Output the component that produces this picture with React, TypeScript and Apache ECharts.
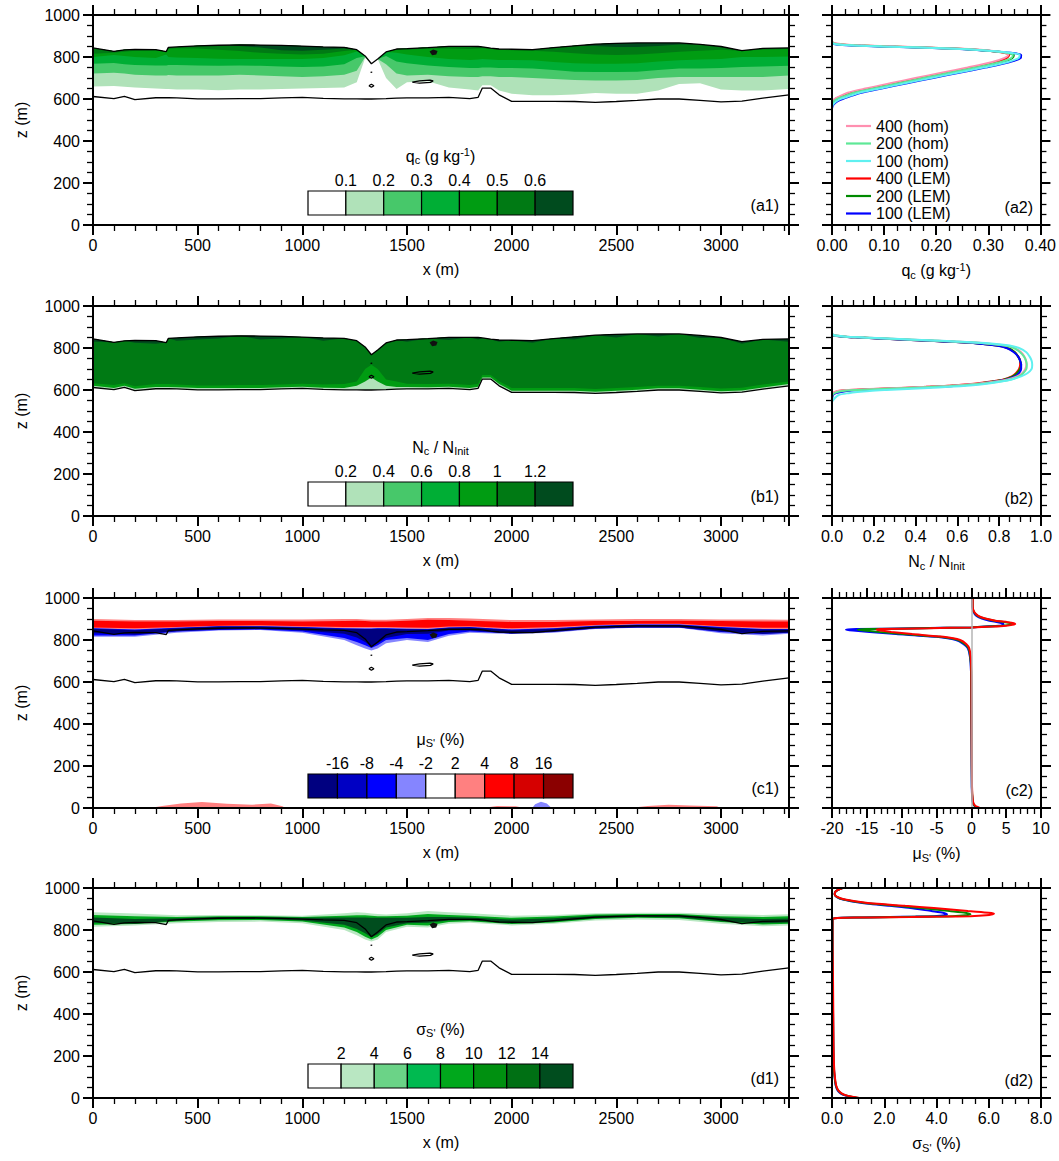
import React, { useEffect, useRef } from "react";
import * as echarts from "echarts";

const FONT = "'Liberation Sans', Arial, Helvetica, sans-serif";
const W = 1059;
const H = 1161;

// ---------------- layout ----------------
const ROW_TOPS = [15, 306, 598, 888];
const ROW_H = 210;
const LEFT_X = 93;
const LEFT_W = 696;
const RIGHT_X = 832;
const RIGHT_W = 209;

// ---------------- cross-section (left panels) data ----------------
const XS = [0, 100, 150, 200, 300, 350, 360, 400, 500, 600, 700, 800, 900, 1000, 1100, 1200, 1260, 1300, 1330, 1360, 1400, 1450, 1500, 1600, 1700, 1800, 1840, 1860, 1900, 1940, 2000, 2100, 2200, 2300, 2400, 2500, 2600, 2700, 2800, 2900, 3000, 3100, 3200, 3325];
// cloud-top and cloud-base contour heights (m)
const TOP = [843, 827, 834, 836, 835, 826, 846, 848, 853, 856, 858, 857, 855, 852, 848, 846, 835, 805, 768, 790, 824, 838, 840, 845, 851, 851, 850, 848, 842, 838, 837, 835, 845, 853, 861, 865, 867, 867, 867, 860, 850, 830, 841, 843];
const BASE = [612, 602, 612, 597, 606, 606, 606, 605, 601, 601, 602, 602, 605, 608, 603, 601, 601, 600, 600, 601, 602, 604, 605, 605, 608, 602, 608, 652, 652, 620, 589, 589, 589, 588, 584, 588, 593, 600, 600, 593, 586, 590, 604, 620];

// (a1) q_c: lower height of each level (filled up to cloud top)
const A1_L1 = [660, 662, 658, 655, 650, 648, 648, 645, 645, 642, 645, 645, 648, 650, 652, 655, 680, 795, 768, 790, 700, 648, 680, 685, 655, 645, 640, 665, 665, 640, 625, 618, 618, 622, 628, 625, 625, 640, 672, 675, 645, 640, 640, 648];
const A1_L2 = [722, 725, 722, 715, 712, 712, 714, 712, 712, 712, 715, 712, 708, 705, 708, 715, 735, 800, 768, 790, 765, 722, 712, 715, 708, 705, 705, 708, 708, 705, 705, 700, 695, 690, 688, 688, 690, 700, 705, 705, 705, 705, 705, 712];
const A1_L3 = [768, 772, 766, 762, 760, 760, 762, 762, 760, 758, 760, 758, 755, 752, 755, 765, 795, 803, 768, 790, 805, 778, 770, 760, 752, 748, 748, 750, 750, 748, 748, 745, 738, 730, 728, 728, 730, 738, 745, 745, 748, 752, 755, 758];
const A1_L4 = [800, 810, 805, 800, 795, 812, 800, 798, 795, 792, 790, 790, 790, 790, 795, 808, 826, 805, 768, 790, 824, 820, 812, 800, 790, 786, 788, 790, 788, 786, 786, 784, 776, 770, 768, 768, 770, 778, 785, 788, 790, 800, 800, 802];
const A1_L5 = [815, 820, 825, 830, 830, 826, 838, 842, 840, 835, 828, 820, 815, 812, 815, 828, 835, 805, 768, 790, 824, 838, 835, 840, 840, 838, 840, 842, 838, 835, 832, 830, 825, 818, 812, 810, 812, 818, 825, 830, 835, 830, 835, 838];
const A1_L6 = [843, 827, 834, 836, 835, 826, 846, 848, 853, 856, 852, 845, 832, 830, 835, 840, 835, 805, 768, 790, 824, 838, 840, 845, 851, 851, 850, 848, 842, 838, 837, 835, 845, 853, 852, 848, 848, 852, 860, 860, 850, 830, 841, 843];

// (b1) N_c/N_init
const B1_L4 = [620, 610, 620, 606, 614, 614, 614, 613, 609, 609, 610, 610, 613, 616, 611, 610, 620, 640, 660, 640, 620, 614, 614, 613, 616, 610, 616, 660, 660, 628, 597, 597, 597, 596, 592, 596, 601, 608, 608, 601, 594, 598, 612, 628];
const B1_L5 = [632, 624, 632, 618, 628, 628, 628, 626, 622, 622, 624, 624, 626, 630, 626, 628, 640, 700, 720, 700, 650, 640, 630, 628, 630, 624, 630, 672, 672, 642, 610, 610, 610, 609, 605, 609, 614, 620, 620, 614, 607, 611, 626, 640];
const B1_L6 = [830, 827, 834, 825, 820, 826, 846, 835, 840, 845, 858, 840, 845, 852, 835, 846, 835, 805, 768, 790, 824, 838, 830, 845, 838, 851, 840, 848, 842, 830, 837, 825, 845, 840, 861, 850, 867, 855, 867, 848, 850, 820, 841, 830];

// coarser grid for (c1), (d1) layers around cloud top
const XC = [0, 200, 400, 600, 800, 1000, 1200, 1260, 1300, 1330, 1360, 1400, 1500, 1600, 1700, 1800, 2000, 2200, 2400, 2600, 2800, 3000, 3200, 3325];
// (c1) mean supersaturation layers
const C1_RED_LIGHT_LO = [852, 848, 856, 862, 864, 860, 856, 855, 855, 855, 856, 856, 854, 852, 858, 860, 848, 855, 866, 872, 872, 860, 852, 852];
const C1_RED_LIGHT_HI = [900, 895, 895, 898, 898, 898, 900, 900, 898, 896, 896, 896, 900, 905, 905, 902, 895, 895, 898, 900, 900, 898, 898, 896];
const C1_RED_LO = [860, 856, 862, 868, 870, 866, 862, 862, 862, 862, 862, 862, 860, 858, 864, 866, 856, 862, 872, 877, 877, 866, 858, 858];
const C1_RED_HI = [892, 888, 888, 890, 890, 888, 890, 892, 890, 888, 888, 888, 892, 896, 895, 892, 886, 886, 890, 890, 892, 890, 888, 888];
const C1_BLUE_LIGHT_LO = [815, 815, 835, 845, 848, 835, 800, 775, 760, 750, 760, 785, 800, 790, 820, 835, 828, 835, 852, 858, 858, 832, 822, 830];
const C1_BLUE_HI = [856, 850, 858, 866, 866, 862, 856, 855, 855, 855, 856, 856, 854, 852, 860, 862, 850, 856, 868, 874, 874, 862, 852, 852];
const C1_BLUE_LO = [822, 822, 840, 848, 850, 840, 810, 790, 775, 762, 775, 800, 810, 800, 828, 840, 832, 840, 855, 860, 860, 838, 828, 835];
const C1_NAVY_LO = [832, 826, 842, 850, 852, 845, 830, 812, 790, 768, 785, 810, 828, 830, 845, 845, 830, 838, 855, 860, 860, 840, 830, 835];
const C1_NAVY_HI = [853, 846, 856, 864, 864, 860, 854, 853, 852, 852, 853, 853, 851, 850, 858, 860, 847, 853, 866, 872, 872, 858, 850, 850];
// near-surface patches in (c1): [x, z]
const C1_SURF_RED_1 = [[270, 0], [330, 10], [420, 22], [520, 28], [640, 20], [760, 16], [850, 22], [905, 8], [920, 0]];
const C1_SURF_RED_2 = [[1860, 0], [1930, 10], [2020, 8], [2060, 0]];
const C1_SURF_RED_3 = [[2560, 0], [2650, 10], [2750, 15], [2850, 12], [2980, 8], [3000, 0]];
const C1_SURF_BLUE_1 = [[2098, 0], [2112, 18], [2140, 30], [2168, 22], [2182, 8], [2186, 0]];

// (d1) std. dev. supersaturation layers
const D1_LIGHT_LO = [815, 822, 832, 838, 840, 832, 800, 775, 755, 745, 755, 790, 815, 812, 830, 835, 822, 830, 845, 850, 848, 830, 818, 822];
const D1_LIGHT_HI = [885, 878, 870, 872, 870, 868, 880, 885, 882, 878, 876, 874, 880, 890, 885, 880, 868, 872, 880, 882, 882, 876, 872, 875];
const D1_MID_LO = [825, 828, 840, 846, 848, 840, 812, 790, 768, 755, 768, 800, 825, 822, 838, 842, 828, 836, 852, 858, 856, 838, 826, 830];
const D1_MID_HI = [872, 866, 862, 866, 865, 862, 868, 870, 870, 868, 866, 865, 868, 876, 872, 868, 858, 864, 874, 876, 876, 866, 862, 866];
const D1_DARK_LO = [835, 830, 845, 852, 852, 845, 825, 805, 785, 765, 780, 812, 832, 835, 845, 846, 832, 840, 856, 862, 860, 842, 832, 836];
const D1_DARK_HI = [860, 852, 856, 862, 862, 858, 860, 860, 860, 858, 858, 858, 858, 862, 862, 860, 850, 856, 868, 872, 872, 860, 852, 855];

// small closed contours [x, z]
const LOOP_A = [[1318, 663], [1330, 670], [1342, 663], [1330, 656], [1318, 663]];
const LOOP_DOT = [[1326, 727], [1334, 728]];
const LOOP_B = [[1525, 680], [1560, 686], [1610, 690], [1625, 686], [1612, 679], [1560, 676], [1525, 680]];
const BLOB = [[1608, 826], [1625, 836], [1646, 829], [1640, 812], [1620, 808]];

// ---------------- profile (right panels) data ----------------
const PROFILE_NAMES = ["400 (hom)", "200 (hom)", "100 (hom)", "400 (LEM)", "200 (LEM)", "100 (LEM)"];
const PROFILE_COLORS = ["#ff8fb0", "#5ee897", "#5ff0f0", "#ff0000", "#008a00", "#0000ff"];

const Z_A = [555, 570, 585, 595, 605, 615, 630, 650, 675, 700, 725, 750, 775, 795, 810, 820, 830, 838, 845, 850, 855, 860, 865, 872];
const A2_HOM400 = [0, 0, 0, 0.002, 0.008, 0.016, 0.030, 0.064, 0.112, 0.160, 0.210, 0.260, 0.306, 0.330, 0.338, 0.332, 0.305, 0.262, 0.190, 0.120, 0.062, 0.022, 0.006, 0];
const A2_HOM200 = [0, 0, 0.002, 0.006, 0.014, 0.025, 0.042, 0.080, 0.128, 0.176, 0.226, 0.276, 0.322, 0.344, 0.347, 0.335, 0.300, 0.252, 0.175, 0.105, 0.050, 0.015, 0.003, 0];
const A2_HOM100 = [0, 0.001, 0.006, 0.012, 0.022, 0.034, 0.053, 0.092, 0.140, 0.190, 0.240, 0.290, 0.336, 0.358, 0.360, 0.342, 0.300, 0.248, 0.168, 0.096, 0.042, 0.010, 0.001, 0];
const A2_LEM400 = [0, 0, 0.001, 0.004, 0.010, 0.020, 0.036, 0.072, 0.120, 0.168, 0.218, 0.268, 0.314, 0.335, 0.340, 0.330, 0.300, 0.255, 0.180, 0.110, 0.055, 0.018, 0.004, 0];
const A2_LEM200 = [0, 0, 0.003, 0.008, 0.016, 0.027, 0.045, 0.082, 0.130, 0.180, 0.230, 0.280, 0.326, 0.346, 0.349, 0.335, 0.298, 0.250, 0.172, 0.102, 0.048, 0.014, 0.002, 0];
const A2_LEM100 = [0, 0.002, 0.008, 0.015, 0.025, 0.037, 0.056, 0.095, 0.144, 0.194, 0.244, 0.294, 0.340, 0.362, 0.363, 0.343, 0.298, 0.245, 0.165, 0.092, 0.040, 0.008, 0.001, 0];

const Z_B = [545, 575, 585, 595, 600, 605, 610, 615, 622, 630, 640, 650, 665, 680, 700, 720, 740, 760, 780, 800, 812, 822, 830, 838, 845, 850, 855, 862, 870];
const B2_HOM400 = [0, 0, 0.004, 0.025, 0.07, 0.18, 0.31, 0.44, 0.58, 0.69, 0.78, 0.84, 0.885, 0.91, 0.925, 0.93, 0.928, 0.92, 0.905, 0.875, 0.83, 0.74, 0.60, 0.42, 0.26, 0.15, 0.06, 0.005, 0];
const B2_HOM200 = [0, 0.002, 0.012, 0.05, 0.12, 0.24, 0.37, 0.49, 0.62, 0.72, 0.80, 0.855, 0.895, 0.915, 0.93, 0.932, 0.928, 0.918, 0.90, 0.87, 0.825, 0.735, 0.595, 0.41, 0.255, 0.145, 0.055, 0.004, 0];
const B2_HOM100 = [0, 0.03, 0.08, 0.18, 0.26, 0.36, 0.46, 0.56, 0.66, 0.74, 0.81, 0.86, 0.905, 0.935, 0.955, 0.958, 0.955, 0.945, 0.93, 0.895, 0.85, 0.76, 0.62, 0.43, 0.27, 0.155, 0.06, 0.006, 0];
const B2_LEM400 = [0, 0, 0.005, 0.03, 0.08, 0.20, 0.33, 0.45, 0.58, 0.68, 0.76, 0.82, 0.86, 0.88, 0.895, 0.90, 0.90, 0.89, 0.875, 0.84, 0.79, 0.70, 0.56, 0.38, 0.23, 0.13, 0.05, 0, 0];
const B2_LEM200 = [0, 0, 0.008, 0.04, 0.10, 0.22, 0.35, 0.47, 0.60, 0.70, 0.77, 0.825, 0.865, 0.885, 0.90, 0.905, 0.90, 0.89, 0.875, 0.84, 0.79, 0.70, 0.56, 0.38, 0.23, 0.13, 0.05, 0.004, 0];
const B2_LEM100 = [0, 0.004, 0.02, 0.07, 0.14, 0.26, 0.38, 0.50, 0.62, 0.71, 0.78, 0.835, 0.875, 0.895, 0.905, 0.905, 0.90, 0.89, 0.87, 0.835, 0.785, 0.695, 0.555, 0.375, 0.225, 0.125, 0.045, 0, 0];

const Z_C = [0, 5, 10, 20, 40, 100, 300, 500, 650, 720, 760, 780, 800, 815, 828, 838, 845, 849, 852, 856, 860, 864, 868, 872, 876, 880, 885, 892, 902, 915, 935, 960, 1000];
const C2_LEM400 = [1.2, 0.9, 0.6, 0.35, 0.2, 0.1, 0.05, 0.02, 0, -0.1, -0.3, -0.7, -1.6, -4.0, -8.5, -11.5, -13.0, -13.6, -13.0, -6, 0, 3.0, 5.0, 5.9, 6.3, 6.1, 5.2, 3.5, 2.0, 1.0, 0.4, 0.2, 0.2];
const C2_LEM200 = [0.9, 0.7, 0.5, 0.3, 0.18, 0.08, 0.04, 0.01, -0.02, -0.15, -0.4, -0.9, -1.9, -4.5, -9.8, -13.2, -15.3, -16.3, -15.0, -7, 0, 2.5, 4.5, 5.4, 5.8, 5.7, 4.9, 3.3, 1.9, 0.9, 0.35, 0.18, 0.18];
const C2_LEM100 = [0.8, 0.6, 0.45, 0.25, 0.15, 0.06, 0.03, 0, -0.05, -0.2, -0.5, -1.1, -2.2, -5.0, -10.8, -14.6, -17.0, -18.0, -16.5, -8, 0, 2.0, 4.0, 4.6, 4.6, 4.4, 3.8, 2.6, 1.5, 0.7, 0.3, 0.15, 0.15];

const Z_D = [0, 5, 10, 20, 35, 60, 100, 150, 250, 400, 550, 650, 750, 850, 856, 858, 860, 862, 864, 866, 870, 875, 878, 882, 890, 905, 915, 930, 945, 958, 970, 985, 1000];
const D2_LEM400 = [1.05, 0.85, 0.62, 0.4, 0.25, 0.16, 0.11, 0.08, 0.06, 0.05, 0.04, 0.03, 0.02, 0.02, 0.1, 0.5, 1.5, 3.0, 4.3, 5.3, 5.9, 6.15, 6.2, 6.0, 5.2, 3.9, 2.8, 1.3, 0.5, 0.2, 0.1, 0.15, 0.4];
const D2_LEM200 = [1.0, 0.8, 0.6, 0.38, 0.24, 0.15, 0.1, 0.07, 0.05, 0.04, 0.03, 0.02, 0.02, 0.02, 0.1, 0.45, 1.3, 2.6, 3.7, 4.6, 5.1, 5.3, 5.3, 5.1, 4.5, 3.4, 2.5, 1.2, 0.45, 0.18, 0.1, 0.15, 0.4];
const D2_LEM100 = [0.95, 0.75, 0.55, 0.35, 0.22, 0.14, 0.1, 0.07, 0.05, 0.04, 0.03, 0.02, 0.02, 0.02, 0.1, 0.4, 1.1, 2.2, 3.2, 3.9, 4.3, 4.4, 4.4, 4.25, 3.8, 3.0, 2.2, 1.1, 0.42, 0.17, 0.1, 0.15, 0.4];

// ---------------- label bars ----------------
const A1_LEVELS = ["0.1", "0.2", "0.3", "0.4", "0.5", "0.6"];
const B1_LEVELS = ["0.2", "0.4", "0.6", "0.8", "1", "1.2"];
const C1_LEVELS = ["-16", "-8", "-4", "-2", "2", "4", "8", "16"];
const D1_LEVELS = ["2", "4", "6", "8", "10", "12", "14"];
const GREEN7 = ["#ffffff", "#b0e2b9", "#47c86a", "#00ae35", "#009c12", "#007a14", "#004b1e"];
const BWR9 = ["#000080", "#0000c4", "#0000ff", "#8585ff", "#ffffff", "#ff8080", "#ff0000", "#d60000", "#8b0000"];
const GREEN8 = ["#ffffff", "#b9e7c2", "#6bd387", "#00ba50", "#00a81c", "#009010", "#007014", "#004d1e"];

const TITLES = ["q{sub|c} (g kg{sup|-1})", "N{sub|c} / N{sub|Init}", "μ{sub|S'} (%)", "σ{sub|S'} (%)"];
const PANEL_LEFT = ["(a1)", "(b1)", "(c1)", "(d1)"];
const PANEL_RIGHT = ["(a2)", "(b2)", "(c2)", "(d2)"];

const RICH = {
  sub: { fontSize: 11, fontFamily: FONT, color: "#000", padding: [8, 0, 0, 0] },
  sup: { fontSize: 11, fontFamily: FONT, color: "#000", padding: [0, 0, 8, 0] },
};

// ---------------- helpers ----------------
function band(g: number, xs: number[], lo: number[], hi: number[], color: string) {
  return {
    type: "custom",
    xAxisIndex: 2 * g,
    yAxisIndex: 2 * g,
    silent: true,
    clip: true,
    z: 1,
    data: [[xs[0], lo[0]]],
    renderItem: (_p: any, api: any) => {
      const pts: number[][] = [];
      for (let i = 0; i < xs.length; i++) pts.push(api.coord([xs[i], hi[i]]));
      for (let i = xs.length - 1; i >= 0; i--) pts.push(api.coord([xs[i], lo[i]]));
      return { type: "polygon", shape: { points: pts }, style: { fill: color } };
    },
  };
}

function patch(g: number, poly: number[][], color: string, zz = 1) {
  return {
    type: "custom",
    xAxisIndex: 2 * g,
    yAxisIndex: 2 * g,
    silent: true,
    clip: true,
    z: zz,
    data: [poly[0]],
    renderItem: (_p: any, api: any) => ({
      type: "polygon",
      shape: { points: poly.map((p) => api.coord(p)) },
      style: { fill: color },
    }),
  };
}

function contour(g: number, pts: number[][], width = 1.3) {
  return {
    type: "line",
    xAxisIndex: 2 * g,
    yAxisIndex: 2 * g,
    data: pts,
    symbol: "none",
    silent: true,
    z: 5,
    lineStyle: { color: "#000", width },
  };
}

function pair(xs: number[], zs: number[]) {
  return xs.map((x, i) => [x, zs[i]]);
}

function prof(g: number, idx: number, vals: number[], zs: number[], smooth: number, extra: any = {}) {
  return {
    type: "line",
    name: PROFILE_NAMES[idx],
    xAxisIndex: 2 * g,
    yAxisIndex: 2 * g,
    data: zs.map((z, i) => [vals[i], z]),
    symbol: "none",
    smooth,
    silent: true,
    z: idx < 3 ? 4 : 3,
    lineStyle: { color: PROFILE_COLORS[idx], width: 2 },
    itemStyle: { color: PROFILE_COLORS[idx] },
    ...extra,
  };
}

const tickBase = (z: number) => ({
  axisLine: { show: true, onZero: false, lineStyle: { color: "#000", width: 2 } },
  axisTick: { show: true, inside: false, length: 10, lineStyle: { color: "#000", width: 2 } },
  splitLine: { show: false },
  minorSplitLine: { show: false },
  z,
});

function xAxes(g: number, min: number, max: number, interval: number, minorSplit: number, fmt: (v: number) => string, name: string, showMax: boolean) {
  const common = {
    type: "value",
    gridIndex: g,
    min,
    max,
    interval,
    ...tickBase(10),
    minorTick: { show: true, splitNumber: minorSplit, length: 6, lineStyle: { color: "#000", width: 1.3 } },
  };
  return [
    {
      ...common,
      position: "bottom",
      axisLabel: { show: true, margin: 12, color: "#000", fontSize: 16, fontFamily: FONT, formatter: fmt, showMaxLabel: showMax, showMinLabel: true },
      name,
      nameLocation: "middle",
      nameGap: 36,
      nameTextStyle: { color: "#000", fontSize: 16, fontFamily: FONT, rich: RICH },
    },
    { ...common, position: "top", axisLabel: { show: false } },
  ];
}

function yAxes(g: number, labels: boolean) {
  const common = {
    type: "value",
    gridIndex: g,
    min: 0,
    max: 1000,
    interval: 200,
    ...tickBase(10),
    minorTick: { show: true, splitNumber: 4, length: 6, lineStyle: { color: "#000", width: 1.3 } },
  };
  const left: any = {
    ...common,
    position: "left",
    axisLabel: { show: labels, margin: 13, color: "#000", fontSize: 16, fontFamily: FONT, formatter: (v: number) => String(Math.round(v)) },
  };
  if (labels) {
    left.name = "z (m)";
    left.nameLocation = "middle";
    left.nameGap = 64;
    left.nameRotate = 90;
    left.nameTextStyle = { color: "#000", fontSize: 16, fontFamily: FONT };
  }
  return [left, { ...common, position: "right", axisLabel: { show: false } }];
}

function textEl(x: number, y: number, text: string, align: string) {
  return {
    type: "text",
    x,
    y,
    z: 100,
    silent: true,
    style: {
      text,
      fill: "#000",
      font: `16px ${FONT}`,
      fontSize: 16,
      fontFamily: FONT,
      align,
      verticalAlign: "middle",
      textAlign: align,
      textVerticalAlign: "middle",
      rich: RICH,
    },
  };
}

function labelBar(row: number, colors: string[], levels: string[], title: string) {
  const x0 = 308;
  const x1 = 573;
  const top = ROW_TOPS[row] + 176;
  const w = (x1 - x0) / colors.length;
  const els: any[] = [];
  colors.forEach((c, i) => {
    els.push({
      type: "rect",
      z: 100,
      silent: true,
      shape: { x: x0 + i * w, y: top, width: w, height: 24 },
      style: { fill: c, stroke: "#000", lineWidth: 1.2 },
    });
  });
  levels.forEach((lv, i) => {
    els.push(textEl(x0 + (i + 1) * w, top - 11, lv, "center"));
  });
  els.push(textEl((x0 + x1) / 2, top - 35, title, "center"));
  return els;
}

function buildOption() {
  const grids: any[] = [];
  const xAxis: any[] = [];
  const yAxis: any[] = [];
  const intFmt = (v: number) => String(Math.round(v));
  const rightX = [
    { min: 0, max: 0.4, interval: 0.1, minor: 4, fmt: (v: number) => v.toFixed(2) },
    { min: 0, max: 1, interval: 0.2, minor: 4, fmt: (v: number) => v.toFixed(1) },
    { min: -20, max: 10, interval: 5, minor: 5, fmt: (v: number) => String(Math.round(v)) },
    { min: 0, max: 8, interval: 2, minor: 4, fmt: (v: number) => v.toFixed(1) },
  ];
  for (let r = 0; r < 4; r++) {
    const gl = 2 * r;
    const gr = 2 * r + 1;
    grids.push({ left: LEFT_X, top: ROW_TOPS[r], width: LEFT_W, height: ROW_H, containLabel: false });
    grids.push({ left: RIGHT_X, top: ROW_TOPS[r], width: RIGHT_W, height: ROW_H, containLabel: false });
    xAxis.push(...xAxes(gl, 0, 3325, 500, 5, intFmt, "x (m)", false));
    yAxis.push(...yAxes(gl, true));
    const rx = rightX[r];
    xAxis.push(...xAxes(gr, rx.min, rx.max, rx.interval, rx.minor, rx.fmt, TITLES[r], true));
    yAxis.push(...yAxes(gr, false));
  }

  const series: any[] = [];
  // (a1)
  series.push(band(0, XS, A1_L1, TOP, GREEN7[1]));
  series.push(band(0, XS, A1_L2, TOP, GREEN7[2]));
  series.push(band(0, XS, A1_L3, TOP, GREEN7[3]));
  series.push(band(0, XS, A1_L4, TOP, GREEN7[4]));
  series.push(band(0, XS, A1_L5, TOP, GREEN7[5]));
  series.push(band(0, XS, A1_L6, TOP, GREEN7[6]));
  // (b1)
  series.push(band(2, XS, BASE, TOP, GREEN7[1]));
  series.push(band(2, XS, B1_L4, TOP, GREEN7[4]));
  series.push(band(2, XS, B1_L5, TOP, GREEN7[5]));
  series.push(band(2, XS, B1_L6, TOP, GREEN7[6]));
  // (c1)
  series.push(band(4, XC, C1_RED_LIGHT_LO, C1_RED_LIGHT_HI, BWR9[5]));
  series.push(band(4, XC, C1_RED_LO, C1_RED_HI, BWR9[6]));
  series.push(band(4, XC, C1_BLUE_LIGHT_LO, C1_BLUE_HI, BWR9[3]));
  series.push(band(4, XC, C1_BLUE_LO, C1_BLUE_HI, BWR9[2]));
  series.push(band(4, XC, C1_NAVY_LO, C1_NAVY_HI, BWR9[0]));
  series.push(patch(4, C1_SURF_RED_1, BWR9[5]));
  series.push(patch(4, C1_SURF_RED_2, BWR9[5]));
  series.push(patch(4, C1_SURF_RED_3, BWR9[5]));
  series.push(patch(4, C1_SURF_BLUE_1, BWR9[3]));
  // (d1)
  series.push(band(6, XC, D1_LIGHT_LO, D1_LIGHT_HI, GREEN8[1]));
  series.push(band(6, XC, D1_MID_LO, D1_MID_HI, GREEN8[4]));
  series.push(band(6, XC, D1_DARK_LO, D1_DARK_HI, GREEN8[7]));

  // contours on all left panels
  for (let r = 0; r < 4; r++) {
    const g = 2 * r;
    series.push(contour(g, pair(XS, TOP)));
    series.push(contour(g, pair(XS, BASE)));
    series.push(contour(g, LOOP_A));
    series.push(contour(g, LOOP_DOT));
    series.push(contour(g, LOOP_B));
    series.push(patch(g, BLOB, "#111", 5));
  }

  // (a2)
  const a2 = [A2_HOM400, A2_HOM200, A2_HOM100, A2_LEM400, A2_LEM200, A2_LEM100];
  [3, 4, 5, 0, 1, 2].forEach((i) => series.push(prof(1, i, a2[i], Z_A, 0.3)));
  // (b2)
  const b2 = [B2_HOM400, B2_HOM200, B2_HOM100, B2_LEM400, B2_LEM200, B2_LEM100];
  [3, 4, 5, 0, 1, 2].forEach((i) => series.push(prof(3, i, b2[i], Z_B, 0.3)));
  // (c2)
  series.push(prof(5, 5, C2_LEM100, Z_C, 0.2, {
    markLine: {
      silent: true,
      symbol: ["none", "none"],
      label: { show: false },
      lineStyle: { color: "#b4b4b4", width: 1.5, type: "solid" },
      data: [{ xAxis: 0 }],
    },
  }));
  series.push(prof(5, 4, C2_LEM200, Z_C, 0.2));
  series.push(prof(5, 3, C2_LEM400, Z_C, 0.2));
  // (d2)
  series.push(prof(7, 5, D2_LEM100, Z_D, 0.2));
  series.push(prof(7, 4, D2_LEM200, Z_D, 0.2));
  series.push(prof(7, 3, D2_LEM400, Z_D, 0.2));

  const graphic: any[] = [];
  graphic.push(...labelBar(0, GREEN7, A1_LEVELS, TITLES[0]));
  graphic.push(...labelBar(1, GREEN7, B1_LEVELS, TITLES[1]));
  graphic.push(...labelBar(2, BWR9, C1_LEVELS, TITLES[2]));
  graphic.push(...labelBar(3, GREEN8, D1_LEVELS, TITLES[3]));
  for (let r = 0; r < 4; r++) {
    graphic.push(textEl(779, ROW_TOPS[r] + 190, PANEL_LEFT[r], "right"));
    graphic.push(textEl(1033, ROW_TOPS[r] + 192, PANEL_RIGHT[r], "right"));
  }

  return {
    animation: false,
    backgroundColor: "#ffffff",
    textStyle: { fontFamily: FONT },
    grid: grids,
    xAxis,
    yAxis,
    legend: {
      data: PROFILE_NAMES,
      orient: "vertical",
      left: 841,
      top: 113,
      icon: "path://M0,0H25V2.2H0Z",
      itemWidth: 25,
      itemHeight: 14,
      itemGap: 1.5,
      selectedMode: false,
      textStyle: { color: "#000", fontSize: 16, fontFamily: FONT, lineHeight: 16 },
    },
    series,
    graphic,
  };
}

export default function App() {
  const ref = useRef<HTMLDivElement>(null);
  useEffect(() => {
    const chart = echarts.init(ref.current as HTMLDivElement, null, { renderer: "svg" });
    chart.setOption(buildOption() as any);
    return () => chart.dispose();
  }, []);
  return (
    <div
      ref={ref}
      style={{ position: "absolute", left: 0, top: 0, width: W, height: H, background: "#fff" }}
    />
  );
}
